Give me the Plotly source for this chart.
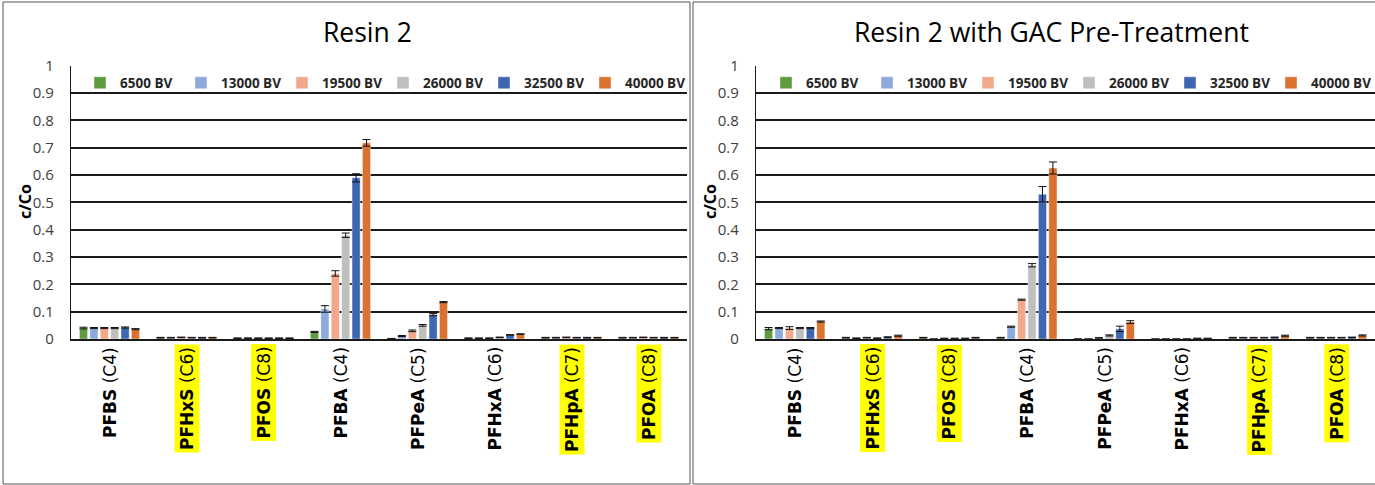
import plotly.graph_objects as go

# PFAS analytes on the x axis
analytes = ["PFBS", "PFHxS", "PFOS", "PFBA", "PFPeA", "PFHxA", "PFHpA", "PFOA"]
chains = ["(C4)", "(C6)", "(C8)", "(C4)", "(C5)", "(C6)", "(C7)", "(C8)"]
highlighted = [False, True, True, False, False, False, True, True]

# Bed volumes (series)
series_names = ["6500 BV", "13000 BV", "19500 BV", "26000 BV", "32500 BV", "40000 BV"]
series_colors = ["#5E9B3F", "#8EA9DB", "#F2A98B", "#BFBFBF", "#3F67B1", "#D9732F"]

# Resin 2 : c/Co per analyte for each bed volume
resin_6500 = [0.040, 0.005, 0.003, 0.026, 0.001, 0.003, 0.005, 0.005]
resin_13000 = [0.040, 0.005, 0.003, 0.110, 0.011, 0.003, 0.005, 0.005]
resin_19500 = [0.040, 0.006, 0.003, 0.240, 0.030, 0.003, 0.006, 0.006]
resin_26000 = [0.040, 0.005, 0.003, 0.380, 0.050, 0.006, 0.005, 0.005]
resin_32500 = [0.042, 0.005, 0.003, 0.590, 0.089, 0.015, 0.005, 0.005]
resin_40000 = [0.036, 0.005, 0.003, 0.718, 0.135, 0.018, 0.005, 0.005]

resin_err_6500 = [0.003, 0.001, 0.001, 0.002, 0.001, 0.001, 0.001, 0.001]
resin_err_13000 = [0.002, 0.001, 0.001, 0.012, 0.002, 0.001, 0.001, 0.001]
resin_err_19500 = [0.002, 0.001, 0.001, 0.010, 0.003, 0.001, 0.001, 0.001]
resin_err_26000 = [0.002, 0.001, 0.001, 0.008, 0.003, 0.001, 0.001, 0.001]
resin_err_32500 = [0.002, 0.001, 0.001, 0.015, 0.004, 0.001, 0.001, 0.001]
resin_err_40000 = [0.002, 0.001, 0.001, 0.012, 0.002, 0.001, 0.001, 0.001]

# Resin 2 with GAC pre-treatment
gac_6500 = [0.038, 0.005, 0.005, 0.005, 0.000, 0.000, 0.005, 0.005]
gac_13000 = [0.040, 0.003, 0.000, 0.045, 0.000, 0.000, 0.005, 0.005]
gac_19500 = [0.040, 0.005, 0.002, 0.144, 0.004, 0.000, 0.005, 0.005]
gac_26000 = [0.040, 0.003, 0.002, 0.270, 0.013, 0.000, 0.005, 0.005]
gac_32500 = [0.040, 0.007, 0.002, 0.530, 0.037, 0.002, 0.006, 0.006]
gac_40000 = [0.064, 0.012, 0.005, 0.626, 0.062, 0.002, 0.012, 0.013]

gac_err_6500 = [0.004, 0.001, 0.001, 0.001, 0.000, 0.000, 0.001, 0.001]
gac_err_13000 = [0.002, 0.001, 0.000, 0.002, 0.000, 0.000, 0.001, 0.001]
gac_err_19500 = [0.005, 0.001, 0.001, 0.002, 0.001, 0.000, 0.001, 0.001]
gac_err_26000 = [0.002, 0.001, 0.001, 0.006, 0.002, 0.000, 0.001, 0.001]
gac_err_32500 = [0.002, 0.001, 0.001, 0.028, 0.010, 0.001, 0.001, 0.001]
gac_err_40000 = [0.002, 0.002, 0.001, 0.022, 0.005, 0.001, 0.002, 0.002]

resin_values = [resin_6500, resin_13000, resin_19500, resin_26000, resin_32500, resin_40000]
resin_errors = [resin_err_6500, resin_err_13000, resin_err_19500, resin_err_26000, resin_err_32500, resin_err_40000]
gac_values = [gac_6500, gac_13000, gac_19500, gac_26000, gac_32500, gac_40000]
gac_errors = [gac_err_6500, gac_err_13000, gac_err_19500, gac_err_26000, gac_err_32500, gac_err_40000]

W, H = 1375, 485
FONT = "Open Sans"
LABEL_FONT = "DejaVu Sans"

def px_x(p):
    return p / W

def px_y(p):
    return 1 - p / H

fig = go.Figure()

panels = [
    ("x", "y", "legend", resin_values, resin_errors),
    ("x2", "y2", "legend2", gac_values, gac_errors),
]
for xa, ya, lg, values, errors in panels:
    for name, color, vals, errs in zip(series_names, series_colors, values, errors):
        fig.add_trace(go.Bar(
            x=analytes, y=vals, name=name, xaxis=xa, yaxis=ya, legend=lg,
            marker=dict(color=color, line=dict(width=0.6, color="rgba(255,255,255,0.7)")),
            error_y=dict(type="data", array=errs, visible=True,
                         color="#111111", thickness=1, width=4),
        ))

axis_y = dict(range=[0, 1.0005], dtick=0.1, tick0=0, showgrid=True,
              gridcolor="#1a1a1a", gridwidth=1.6, zeroline=False,
              showline=True, linecolor="#1a1a1a", linewidth=1.2,
              ticks="", ticklabelstandoff=13,
              tickfont=dict(family=FONT, size=15, color="#404040"),
              domain=[px_y(339), px_y(65.7)], fixedrange=True)
axis_x = dict(type="category", showticklabels=False, ticks="",
              showline=True, linecolor="#1a1a1a", linewidth=2,
              showgrid=False, zeroline=False, fixedrange=True)

legend_common = dict(orientation="h", yanchor="middle", xanchor="left",
                     entrywidth=56, entrywidthmode="pixels", traceorder="normal",
                     font=dict(family=FONT, size=13.5, color="#262626", weight="bold"),
                     bgcolor="rgba(0,0,0,0)", itemclick=False)

fig.update_layout(
    width=W, height=H,
    margin=dict(l=0, r=0, t=0, b=0, autoexpand=False),
    paper_bgcolor="white", plot_bgcolor="white",
    barmode="group", bargap=0.19, bargroupgap=0.22,
    xaxis=dict(axis_x, domain=[px_x(71), px_x(687)]),
    xaxis2=dict(axis_x, domain=[px_x(756), 1.0], anchor="y2"),
    yaxis=dict(axis_y, anchor="x"),
    yaxis2=dict(axis_y, anchor="x2"),
    legend=dict(legend_common, x=px_x(80), y=px_y(83)),
    legend2=dict(legend_common, x=px_x(766), y=px_y(83)),
    showlegend=True,
)

annotations = []
# panel titles
annotations.append(dict(text="Resin 2", x=px_x(367), y=px_y(32), xref="paper", yref="paper",
                        xanchor="center", yanchor="middle", showarrow=False,
                        font=dict(family=FONT, size=26.5, color="#000000")))
annotations.append(dict(text="Resin 2 with GAC Pre-Treatment", x=px_x(1051), y=px_y(32),
                        xref="paper", yref="paper", xanchor="center", yanchor="middle",
                        showarrow=False, font=dict(family=FONT, size=26.5, color="#000000")))
# y-axis titles
for xp in (25, 710):
    annotations.append(dict(text="<b>c/Co</b>", x=px_x(xp), y=px_y(202), xref="paper", yref="paper",
                            xanchor="center", yanchor="middle", showarrow=False, textangle=-90,
                            font=dict(family=FONT, size=16, color="#000000")))
# rotated category labels, some highlighted
for xa, ya in (("x", "y"), ("x2", "y2")):
    for name, chain, hl in zip(analytes, chains, highlighted):
        annotations.append(dict(
            text=f"<b>{name}</b> {chain}", x=name, y=0, xref=xa, yref=ya,
            xanchor="center", yanchor="top", yshift=-5, textangle=-90, showarrow=False,
            font=dict(family=LABEL_FONT, size=17, color="#000000"),
            bgcolor="#FFFF00" if hl else "rgba(0,0,0,0)", borderpad=2,
        ))
fig.update_layout(annotations=annotations)

# chart-area borders
fig.add_shape(type="rect", xref="paper", yref="paper",
              x0=px_x(3), x1=px_x(690), y0=px_y(484), y1=px_y(2),
              line=dict(color="#555555", width=1), layer="below")
fig.add_shape(type="rect", xref="paper", yref="paper",
              x0=px_x(693), x1=px_x(1385), y0=px_y(484), y1=px_y(2),
              line=dict(color="#555555", width=1), layer="below")

fig.write_html("out.html")
